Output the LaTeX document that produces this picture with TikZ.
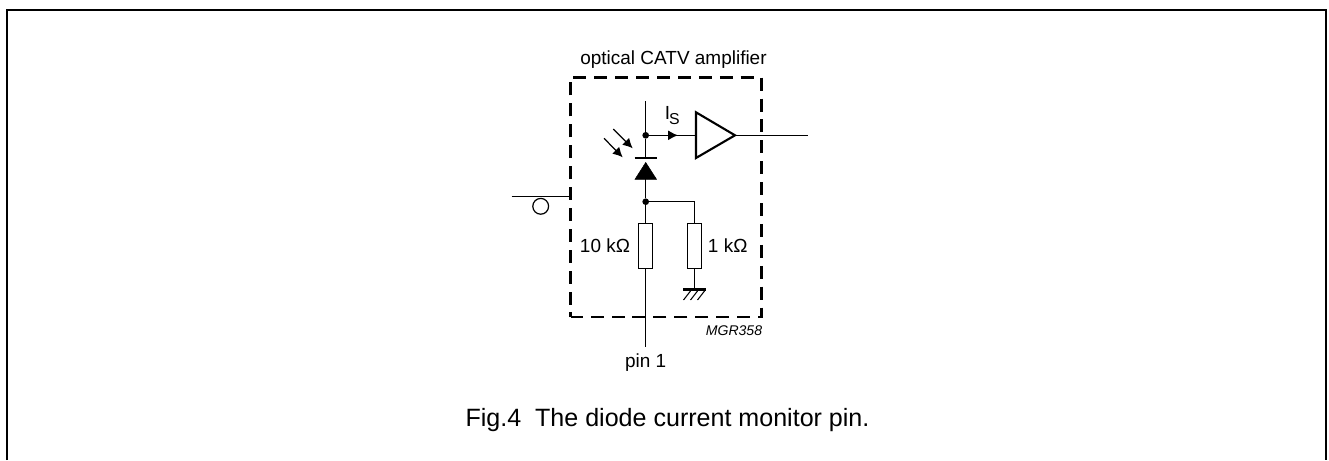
\documentclass[tikz,border=0pt]{standalone}
\usepackage{fontspec}
\setmainfont{Liberation Sans}
\usetikzlibrary{arrows.meta,calc}
\usetikzlibrary{positioning}
\tikzstyle{wire}=[line width=0.7pt]
\tikzstyle{frameline}=[line width=0.9pt]
\tikzstyle{boxline}=[line width=1.35pt,dash pattern=on 7.4pt off 4.5pt,dash phase=4.8pt]
\tikzstyle{res}=[draw,line width=0.7pt,rectangle,fill=white,minimum width=7.8pt,minimum height=25.7pt,inner sep=0pt]
\tikzstyle{dot}=[circle,fill=black,inner sep=0pt,minimum size=3.8pt]
\tikzstyle{lbl}=[font=\fontsize{10.8pt}{12pt}\selectfont,inner sep=0pt]
\tikzstyle{headed}=[wire,-{Latex[length=5.6pt,width=5.6pt]}]
\begin{document}
\begin{tikzpicture}[x=0.02cm,y=-0.02cm]

% % % % % % % % % % % % % % %

\useasboundingbox (0,0) rectangle (1329,460);

\coordinate (TL) at (7,10);
\coordinate (TR) at (1326,10);
\coordinate (BL) at (7,460);
\coordinate (BR) at (1326,460);
\draw[frameline](BL)--(TL)--(TR)--(BR);

\coordinate (A) at (570.5,77.5);
\coordinate (B) at (761.5,77.5);
\coordinate (C) at (761.5,317);
\coordinate (D) at (570.5,317);
\draw[boxline](D)--(A)--(B)--(C)--cycle;
\node[lbl] (title) at (673.5,60) {optical CATV amplifier};
\node[lbl,font=\itshape\fontsize{8pt}{9pt}\selectfont] (code) at (734,331) {MGR358};

% main branch
\coordinate (top) at (645.7,101);
\node[dot] (j1) at (645.7,135.3) {};
\node[dot] (j2) at (645.7,201.7) {};
\coordinate (bar) at (645.7,158);
\coordinate (barL) at (634.7,158);
\coordinate (barR) at (656.7,158);
\coordinate (tipD) at (645.7,162.5);
\coordinate (baseL) at (635,179.3);
\coordinate (baseR) at (656.5,179.3);
\coordinate (baseM) at (645.7,179.3);
\draw[wire](top)--(j1)--(bar);
\draw[line width=1.5pt](barL)--(barR);
\draw[fill=black,line width=0.3pt](tipD)--(baseL)--(baseR)--cycle;
\draw[wire](baseM)--(j2);

% light
\coordinate (p1) at (613.3,129);
\coordinate (q1) at (632.7,148.3);
\coordinate (p2) at (604,138.3);
\coordinate (q2) at (622.7,157.3);
\draw[headed](p1)--(q1);
\draw[headed](p2)--(q2);

% amplifier
\coordinate (ampA) at (696,112.3);
\coordinate (ampB) at (696,158);
\coordinate (ampC) at (735,135.3);
\coordinate (ampIn) at (696,135.3);
\coordinate (out) at (808,135.3);
\coordinate (tipI) at (678,135.3);
\draw[line width=1.2pt,line join=miter](ampA)--(ampC)--(ampB)--cycle;
\draw[wire](j1)--(ampIn);
\draw[wire](ampC)--(out);
\draw[headed](j1)--(tipI);
\node[lbl] (Is) at (667.5,112.5) {I};
\node[lbl,font=\fontsize{9pt}{10pt}\selectfont] (sub) at (674.5,119.5) {S};

% resistors
\node[res] (R1) at (645.7,246) {};
\node[res] (R2) at (694.7,246) {};
\coordinate (corner) at (694.7,201.7);
\coordinate (pin) at (645.7,347);
\coordinate (gnd) at (694.7,289);
\draw[wire](j2)--(R1);
\draw[wire](j2)--(corner)--(R2);
\draw[wire](R1)--(pin);
\draw[wire](R2)--(gnd);
\draw[line width=1.9pt](683.3,289.3)--(706,289.3);
\foreach \i in {0,1,2} {
\draw[line width=0.6pt] (690.5+7*\i,291)--(683.5+7*\i,300);
}
\node[lbl] (r1text) at (605,246) {10 kΩ};
\node[lbl] (r2text) at (727.7,246) {1 kΩ};
\node[lbl] (pintext) at (645.7,363) {pin 1};

% fibre
\coordinate (f1) at (511.7,196.7);
\coordinate (f2) at (570.5,196.7);
\draw[wire](f1)--(f2);
\node[circle,draw,line width=0.7pt,minimum size=9pt,inner sep=0pt] (loop) at (540.7,206.3) {};

\node[lbl,font=\fontsize{14.26pt}{17pt}\selectfont,anchor=base] (caption) at (667.5,426) {Fig.4\ \ The diode current monitor pin.};

\end{tikzpicture}
\end{document}
